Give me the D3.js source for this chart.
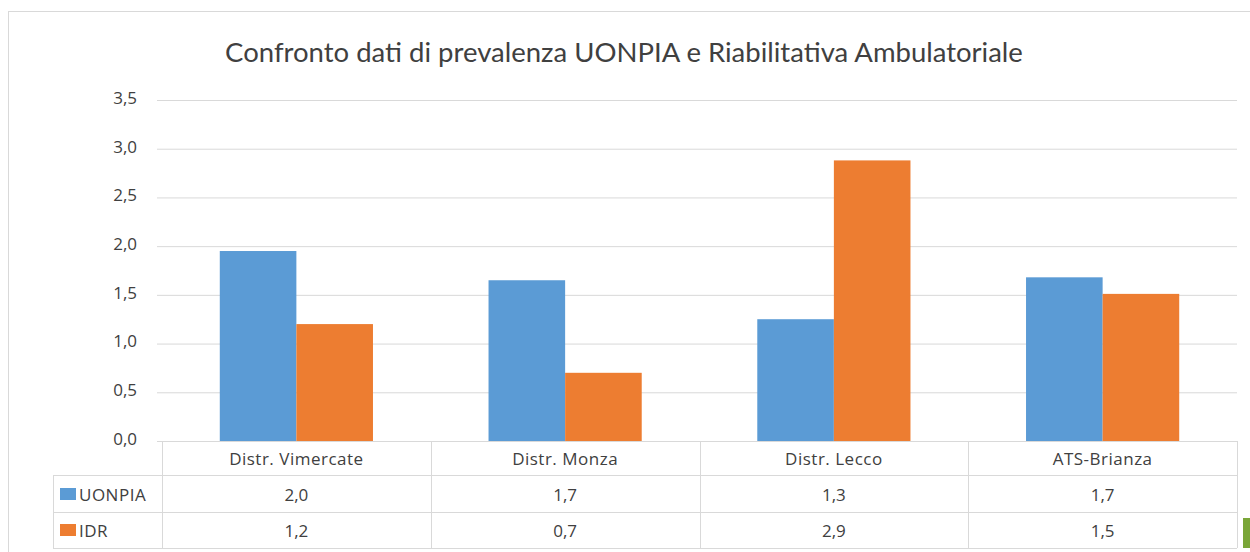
<!DOCTYPE html>
<html><head><meta charset="utf-8">
<script src="https://cdn.jsdelivr.net/npm/d3@7/dist/d3.min.js"></script>
<style>body{margin:0;background:#fff;}svg{display:block;font-family:Lato,"Open Sans",sans-serif;}</style>
</head><body><svg id="c" width="1250" height="552"></svg>
<script>
const categories = ["Distr. Vimercate","Distr. Monza","Distr. Lecco","ATS-Brianza"];
const seriesNames = ["UONPIA","IDR"];
const uonpia = [1.95,1.65,1.25,1.68];
const idr = [1.2,0.7,2.88,1.51];
const uonpiaLabels = ["2,0","1,7","1,3","1,7"];
const idrLabels = ["1,2","0,7","2,9","1,5"];
const yTicks = [0,0.5,1,1.5,2,2.5,3,3.5];
const colors = ["#5b9bd5","#ed7d31"];
const title = "Confronto dati di prevalenza UONPIA e Riabilitativa Ambulatoriale";

(function(){
const svg = d3.select("#c");
const grid = "#d9d9d9";
const txt = "#404040";
const tf="'Open Sans',sans-serif";
const fs=17;
svg.append("line").attr("x1",8).attr("x2",1250).attr("y1",11.5).attr("y2",11.5).attr("stroke",grid);
svg.append("line").attr("x1",8.5).attr("x2",8.5).attr("y1",11).attr("y2",552).attr("stroke",grid);

svg.append("text").attr("x",624).attr("y",62).attr("text-anchor","middle")
  .attr("font-size",27.5).attr("fill",txt).text(title);

const pl=162, pr=1237, pt=100, pb=441;
const x = d3.scaleBand().domain(categories).range([pl,pr]);
const y = d3.scaleLinear().domain([0,3.5]).range([pb,pt]);

const gy = svg.append("g").attr("transform",`translate(${pl},0)`)
  .call(d3.axisLeft(y).tickValues(yTicks).tickSize(0).tickFormat(d=>d3.format(".1f")(d).replace(".",",")));
gy.select(".domain").remove();
gy.selectAll(".tick line").attr("stroke",grid).attr("x1",-5).attr("x2",pr-pl);
gy.selectAll(".tick text").attr("font-size",fs).attr("fill",txt).attr("x",-25).attr("dy","0.2em").attr("font-family",tf);

const series=[uonpia,idr];
const bw = x.bandwidth()*0.285;
categories.forEach((c,i)=>{
  series.forEach((s,j)=>{
    const cx = x(c)+x.bandwidth()/2;
    svg.append("rect").attr("x",cx-bw+j*bw).attr("width",bw)
      .attr("y",y(s[i])).attr("height",y(0)-y(s[i])).attr("fill",colors[j]);
  });
});

const rows=[441,475,512,548];
const tleft=53;
const tg=svg.append("g").attr("stroke",grid).attr("fill","none");
tg.append("line").attr("x1",pl).attr("x2",pr).attr("y1",rows[0]+0.5).attr("y2",rows[0]+0.5);
for(let r=1;r<rows.length;r++) tg.append("line").attr("x1",tleft).attr("x2",pr).attr("y1",rows[r]+0.5).attr("y2",rows[r]+0.5);
tg.append("line").attr("x1",tleft+0.5).attr("x2",tleft+0.5).attr("y1",rows[1]).attr("y2",rows[3]);
categories.forEach(c=>{tg.append("line").attr("x1",Math.round(x(c))+0.5).attr("x2",Math.round(x(c))+0.5).attr("y1",rows[0]).attr("y2",rows[3]);});
tg.append("line").attr("x1",pr+0.5).attr("x2",pr+0.5).attr("y1",rows[0]).attr("y2",rows[3]);

categories.forEach((c,i)=>{
  const cx=x(c)+x.bandwidth()/2;
  svg.append("text").attr("x",cx).attr("y",465).attr("text-anchor","middle").attr("font-size",fs).attr("letter-spacing",0.5).attr("font-family",tf).attr("fill",txt).text(c);
  svg.append("text").attr("x",cx).attr("y",501).attr("text-anchor","middle").attr("font-size",fs).attr("font-family",tf).attr("fill",txt).text(uonpiaLabels[i]);
  svg.append("text").attr("x",cx).attr("y",537).attr("text-anchor","middle").attr("font-size",fs).attr("font-family",tf).attr("fill",txt).text(idrLabels[i]);
});
const legY=[501,537];
seriesNames.forEach((n,j)=>{
  svg.append("rect").attr("x",60).attr("y",legY[j]-13).attr("width",16).attr("height",12).attr("fill",colors[j]);
  svg.append("text").attr("x",79).attr("y",legY[j]).attr("font-size",fs).attr("letter-spacing",0.5).attr("font-family",tf).attr("fill",txt).text(n);
});
svg.append("rect").attr("x",1243).attr("y",518).attr("width",7).attr("height",30).attr("fill","#7aa638");
})();
</script></body></html>
